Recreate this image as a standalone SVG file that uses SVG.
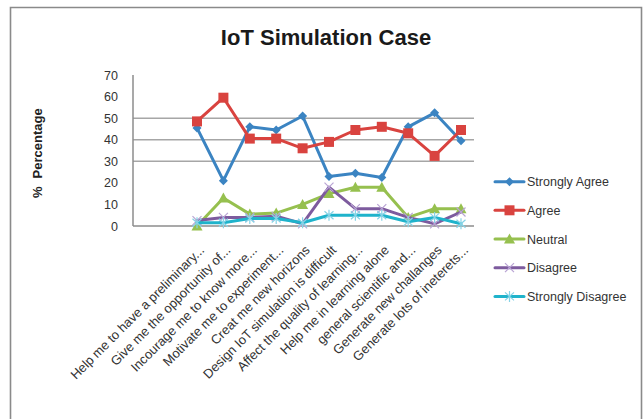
<svg xmlns="http://www.w3.org/2000/svg" width="643" height="419" viewBox="0 0 643 419">
<style>
  text { font-family: "Liberation Sans", Arial, sans-serif; fill: #1a1a1a; }
  .title { font-size: 22px; font-weight: bold; text-anchor: middle; }
  .ytick { font-size: 12.5px; text-anchor: end; fill: #333; }
  .ytitle { font-size: 13px; font-weight: bold; fill: #222; }
  .xlab { font-size: 13px; text-anchor: end; fill: #333; }
  .leg { font-size: 12.5px; fill: #333; }
  .grid { stroke: #a6a6a6; stroke-width: 1.5; fill: none; }
  .axis { stroke: #8c8c8c; stroke-width: 1.5; fill: none; }
  .frame { stroke: #8a8a8a; stroke-width: 1.6; fill: none; }
  .s { fill: none; stroke-width: 3; stroke-linejoin: round; stroke-linecap: round; }
  .sa { stroke: #3b84c2; }
  .ag { stroke: #d9433f; }
  .ne { stroke: #96c04f; }
  .di { stroke: #7d5b9e; }
  .sd { stroke: #1fb3cb; }
</style>
<defs>
  <marker id="mk-sa" markerUnits="userSpaceOnUse" markerWidth="12" markerHeight="12" refX="6" refY="6" orient="0" overflow="visible">
    <polygon points="6,1.5 10.5,6 6,10.5 1.5,6" fill="#3b84c2"/>
  </marker>
  <marker id="mk-ag" markerUnits="userSpaceOnUse" markerWidth="12" markerHeight="12" refX="6" refY="6" orient="0" overflow="visible">
    <rect x="1" y="1" width="10" height="10" fill="#d9433f"/>
  </marker>
  <marker id="mk-ne" markerUnits="userSpaceOnUse" markerWidth="12" markerHeight="12" refX="6" refY="6" orient="0" overflow="visible">
    <polygon points="6,0.5 11.5,10.5 0.5,10.5" fill="#96c04f"/>
  </marker>
  <marker id="mk-di" markerUnits="userSpaceOnUse" markerWidth="12" markerHeight="12" refX="6" refY="6" orient="0" overflow="visible">
    <path d="M1.5,1.5 L10.5,10.5 M10.5,1.5 L1.5,10.5" stroke="#b9a4d4" stroke-width="1.2" fill="none"/>
  </marker>
  <marker id="mk-sd" markerUnits="userSpaceOnUse" markerWidth="12" markerHeight="12" refX="6" refY="6" orient="0" overflow="visible">
    <path d="M6,0.5 L6,11.5 M1.5,2 L10.5,10 M10.5,2 L1.5,10" stroke="#86d3e6" stroke-width="1.2" fill="none"/>
  </marker>
</defs>

<g id="frame">
  <polyline class="frame" points="10.5,419 10.5,7.5 641.5,7.5 641.5,419"/>
</g>

<g id="title"><text class="title" x="326" y="45">IoT Simulation Case</text></g>

<g id="y-axis">
  <line class="grid" x1="133" y1="118.2" x2="474" y2="118.2"/>
  <line class="grid" x1="133" y1="139.7" x2="474" y2="139.7"/>
  <line class="grid" x1="133" y1="161.3" x2="474" y2="161.3"/>
  <line class="axis" x1="133" y1="75" x2="133" y2="226"/>
  <line class="axis" x1="133" y1="226" x2="474" y2="226"/>
  <text class="ytick" x="118" y="79.5">70</text>
  <text class="ytick" x="118" y="101">60</text>
  <text class="ytick" x="118" y="122.7">50</text>
  <text class="ytick" x="118" y="144.2">40</text>
  <text class="ytick" x="118" y="165.8">30</text>
  <text class="ytick" x="118" y="187.4">20</text>
  <text class="ytick" x="118" y="209">10</text>
  <text class="ytick" x="118" y="230.5">0</text>
  <text class="ytitle" transform="translate(42,198) rotate(-90)">%<tspan dx="8">Percentage</tspan></text>
</g>

<g id="x-labels">
  <text class="xlab" transform="translate(205,251) rotate(-45)">Help me to have a preliminary...</text>
  <text class="xlab" transform="translate(231.4,251) rotate(-45)">Give me the opportunity of...</text>
  <text class="xlab" transform="translate(257.8,251) rotate(-45)">Incourage me to know more...</text>
  <text class="xlab" transform="translate(284.2,251) rotate(-45)">Motivate me to experiment...</text>
  <text class="xlab" transform="translate(310.6,251) rotate(-45)">Creat me new horizons</text>
  <text class="xlab" transform="translate(337,251) rotate(-45)">Design IoT simulation is difficult</text>
  <text class="xlab" transform="translate(363.4,251) rotate(-45)">Affect the quality of learning...</text>
  <text class="xlab" transform="translate(389.8,251) rotate(-45)">Help me in learning alone</text>
  <text class="xlab" transform="translate(416.2,251) rotate(-45)">general scientific and...</text>
  <text class="xlab" transform="translate(442.6,251) rotate(-45)">Generate new challanges</text>
  <text class="xlab" transform="translate(469,251) rotate(-45)">Generate lots of ineterets...</text>
</g>

<g id="series">
  <polyline id="strongly-agree" class="s sa" marker-start="url(#mk-sa)" marker-mid="url(#mk-sa)" marker-end="url(#mk-sa)"
    points="197,127.9 223.4,180.7 249.8,126.8 276.2,130 302.6,116 329,176.4 355.4,173.2 381.8,177.5 408.2,126.8 434.6,112.8 461,140.8"/>
  <polyline id="agree" class="s ag" marker-start="url(#mk-ag)" marker-mid="url(#mk-ag)" marker-end="url(#mk-ag)"
    points="197,121.4 223.4,97.7 249.8,138.6 276.2,138.6 302.6,148.3 329,141.9 355.4,130 381.8,126.8 408.2,133.3 434.6,155.9 461,130"/>
  <polyline id="neutral" class="s ne" marker-start="url(#mk-ne)" marker-mid="url(#mk-ne)" marker-end="url(#mk-ne)"
    points="197,226 223.4,198 249.8,214.1 276.2,213.1 302.6,204.4 329,193.6 355.4,187.2 381.8,187.2 408.2,217.4 434.6,208.7 461,208.7"/>
  <polyline id="disagree" class="s di" marker-start="url(#mk-di)" marker-mid="url(#mk-di)" marker-end="url(#mk-di)"
    points="197,220.6 223.4,217.4 249.8,217.4 276.2,216.3 302.6,223.8 329,187.2 355.4,208.7 381.8,208.7 408.2,217.4 434.6,223.8 461,212"/>
  <polyline id="strongly-disagree" class="s sd" marker-start="url(#mk-sd)" marker-mid="url(#mk-sd)" marker-end="url(#mk-sd)"
    points="197,222.8 223.4,222.8 249.8,218.5 276.2,218.5 302.6,222.8 329,215.2 355.4,215.2 381.8,215.2 408.2,221.7 434.6,217.4 461,223.8"/>
</g>

<g id="legend">
  <g id="legend-strongly-agree">
    <polyline class="s sa" points="495,181.7 509.5,181.7 524,181.7" marker-mid="url(#mk-sa)"/>
    <text class="leg" x="527" y="186.2">Strongly Agree</text>
  </g>
  <g id="legend-agree">
    <polyline class="s ag" points="495,210.3 509.5,210.3 524,210.3" marker-mid="url(#mk-ag)"/>
    <text class="leg" x="527" y="214.8">Agree</text>
  </g>
  <g id="legend-neutral">
    <polyline class="s ne" points="495,239 509.5,239 524,239" marker-mid="url(#mk-ne)"/>
    <text class="leg" x="527" y="243.5">Neutral</text>
  </g>
  <g id="legend-disagree">
    <polyline class="s di" points="495,267.7 509.5,267.7 524,267.7" marker-mid="url(#mk-di)"/>
    <text class="leg" x="527" y="272.2">Disagree</text>
  </g>
  <g id="legend-strongly-disagree">
    <polyline class="s sd" points="495,296.4 509.5,296.4 524,296.4" marker-mid="url(#mk-sd)"/>
    <text class="leg" x="527" y="300.9">Strongly Disagree</text>
  </g>
</g>
</svg>
